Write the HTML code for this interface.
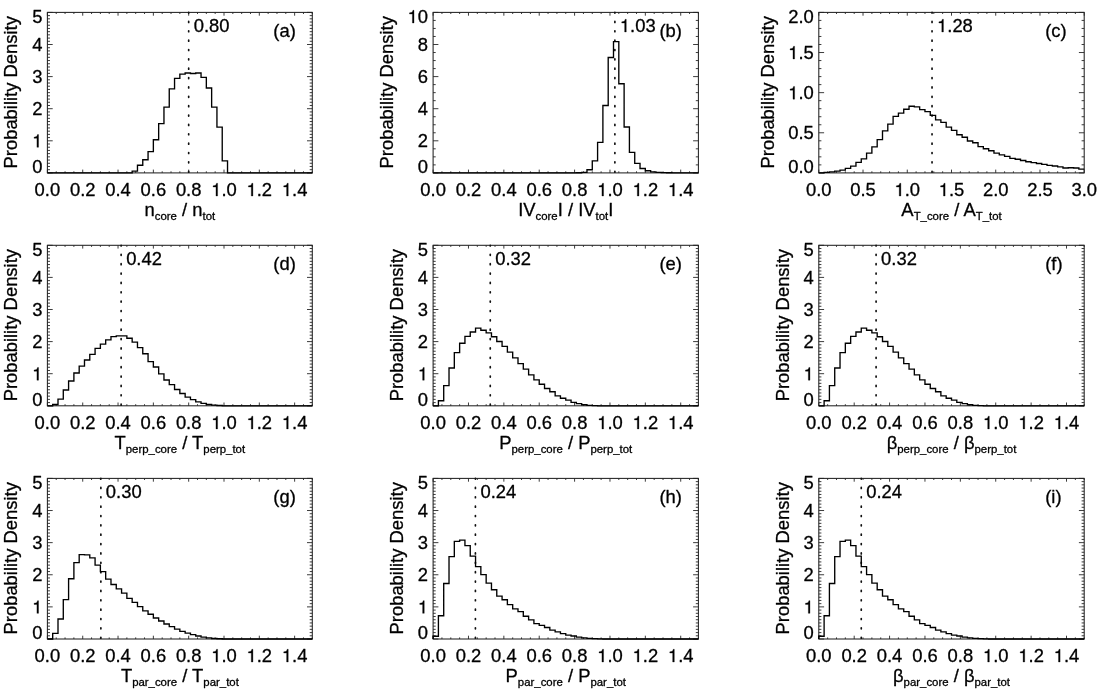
<!DOCTYPE html>
<html><head><meta charset="utf-8"><title>Probability density histograms</title>
<style>html,body{margin:0;padding:0;background:#fff;}body{width:1102px;height:695px;overflow:hidden;}svg{display:block;filter:blur(0.5px);}text{font-family:"Liberation Sans", sans-serif;}</style></head>
<body>
<svg width="1102" height="695" viewBox="0 0 1102 695" font-family='"Liberation Sans", sans-serif' font-size="18.4" fill="#000">
<style>text{stroke:#000;stroke-width:0.3px;stroke-linejoin:round;}</style>
<defs><path id="one" d="M259 0H347V692H289C258 583 238 568 102 551V488H259Z" fill="#000" stroke="#000" stroke-width="16.3" stroke-linejoin="round"/></defs>
<rect width="1102" height="695" fill="#fff"/>
<g>
<path d="M47.4 172.9v-3.3M47.4 12.4v3.3M56.23 172.9v-1.6M56.23 12.4v1.6M65.06 172.9v-1.6M65.06 12.4v1.6M73.89 172.9v-1.6M73.89 12.4v1.6M82.72 172.9v-3.3M82.72 12.4v3.3M91.55 172.9v-1.6M91.55 12.4v1.6M100.38 172.9v-1.6M100.38 12.4v1.6M109.21 172.9v-1.6M109.21 12.4v1.6M118.04 172.9v-3.3M118.04 12.4v3.3M126.87 172.9v-1.6M126.87 12.4v1.6M135.7 172.9v-1.6M135.7 12.4v1.6M144.53 172.9v-1.6M144.53 12.4v1.6M153.36 172.9v-3.3M153.36 12.4v3.3M162.19 172.9v-1.6M162.19 12.4v1.6M171.02 172.9v-1.6M171.02 12.4v1.6M179.85 172.9v-1.6M179.85 12.4v1.6M188.68 172.9v-3.3M188.68 12.4v3.3M197.51 172.9v-1.6M197.51 12.4v1.6M206.34 172.9v-1.6M206.34 12.4v1.6M215.17 172.9v-1.6M215.17 12.4v1.6M224 172.9v-3.3M224 12.4v3.3M232.83 172.9v-1.6M232.83 12.4v1.6M241.66 172.9v-1.6M241.66 12.4v1.6M250.49 172.9v-1.6M250.49 12.4v1.6M259.32 172.9v-3.3M259.32 12.4v3.3M268.15 172.9v-1.6M268.15 12.4v1.6M276.98 172.9v-1.6M276.98 12.4v1.6M285.81 172.9v-1.6M285.81 12.4v1.6M294.64 172.9v-3.3M294.64 12.4v3.3M303.47 172.9v-1.6M303.47 12.4v1.6M312.3 172.9v-1.6M312.3 12.4v1.6M47.4 172.9h5.3M312.3 172.9h-5.3M47.4 169.69h2.6M312.3 169.69h-2.6M47.4 166.48h2.6M312.3 166.48h-2.6M47.4 163.27h2.6M312.3 163.27h-2.6M47.4 160.06h2.6M312.3 160.06h-2.6M47.4 156.85h2.6M312.3 156.85h-2.6M47.4 153.64h2.6M312.3 153.64h-2.6M47.4 150.43h2.6M312.3 150.43h-2.6M47.4 147.22h2.6M312.3 147.22h-2.6M47.4 144.01h2.6M312.3 144.01h-2.6M47.4 140.8h5.3M312.3 140.8h-5.3M47.4 137.59h2.6M312.3 137.59h-2.6M47.4 134.38h2.6M312.3 134.38h-2.6M47.4 131.17h2.6M312.3 131.17h-2.6M47.4 127.96h2.6M312.3 127.96h-2.6M47.4 124.75h2.6M312.3 124.75h-2.6M47.4 121.54h2.6M312.3 121.54h-2.6M47.4 118.33h2.6M312.3 118.33h-2.6M47.4 115.12h2.6M312.3 115.12h-2.6M47.4 111.91h2.6M312.3 111.91h-2.6M47.4 108.7h5.3M312.3 108.7h-5.3M47.4 105.49h2.6M312.3 105.49h-2.6M47.4 102.28h2.6M312.3 102.28h-2.6M47.4 99.07h2.6M312.3 99.07h-2.6M47.4 95.86h2.6M312.3 95.86h-2.6M47.4 92.65h2.6M312.3 92.65h-2.6M47.4 89.44h2.6M312.3 89.44h-2.6M47.4 86.23h2.6M312.3 86.23h-2.6M47.4 83.02h2.6M312.3 83.02h-2.6M47.4 79.81h2.6M312.3 79.81h-2.6M47.4 76.6h5.3M312.3 76.6h-5.3M47.4 73.39h2.6M312.3 73.39h-2.6M47.4 70.18h2.6M312.3 70.18h-2.6M47.4 66.97h2.6M312.3 66.97h-2.6M47.4 63.76h2.6M312.3 63.76h-2.6M47.4 60.55h2.6M312.3 60.55h-2.6M47.4 57.34h2.6M312.3 57.34h-2.6M47.4 54.13h2.6M312.3 54.13h-2.6M47.4 50.92h2.6M312.3 50.92h-2.6M47.4 47.71h2.6M312.3 47.71h-2.6M47.4 44.5h5.3M312.3 44.5h-5.3M47.4 41.29h2.6M312.3 41.29h-2.6M47.4 38.08h2.6M312.3 38.08h-2.6M47.4 34.87h2.6M312.3 34.87h-2.6M47.4 31.66h2.6M312.3 31.66h-2.6M47.4 28.45h2.6M312.3 28.45h-2.6M47.4 25.24h2.6M312.3 25.24h-2.6M47.4 22.03h2.6M312.3 22.03h-2.6M47.4 18.82h2.6M312.3 18.82h-2.6M47.4 15.61h2.6M312.3 15.61h-2.6M47.4 12.4h5.3M312.3 12.4h-5.3" stroke="#333" stroke-width="0.95" fill="none"/>
<rect x="47.4" y="12.4" width="264.9" height="160.5" fill="none" stroke="#222" stroke-width="1.05"/>
<path d="M188.68 12.4V172.9" stroke="#111" stroke-width="1.7" stroke-linecap="round" stroke-dasharray="1 8.364" stroke-dashoffset="0.36" fill="none"/>
<path d="M47.4 172.9V172.9H52.7V172.9H58V172.9H63.29V172.9H68.59V172.9H73.89V172.9H79.19V172.9H84.49V172.9H89.78V172.9H95.08V172.9H100.38V172.9H105.68V172.9H110.98V172.9H116.27V172.9H121.57V172.9H126.87V172.9H132.17V171.08H137.47V165.22H142.76V159.73H148.06V151.66H153.36V139.79H158.66V123.63H163.96V107.12H169.25V88.88H174.55V78.32H179.85V74.16H185.15V72.98H190.45V73.52H195.74V72.98H201.04V77.36H206.34V88.02H211.64V107.12H216.94V127.12H222.23V160.88H227.53V172.9H232.83V172.9H238.13V172.9H243.43V172.9H248.72V172.9H254.02V172.9H259.32V172.9H264.62V172.9H269.92V172.9H275.21V172.9H280.51V172.9H285.81V172.9H291.11V172.9H296.41V172.9H301.7V172.9H307V172.9H312.3" stroke="#000" stroke-width="1.35" fill="none" stroke-linejoin="miter"/>
<text x="34.61" y="196">0.0</text>
<text x="69.93" y="196">0.2</text>
<text x="105.25" y="196">0.4</text>
<text x="140.57" y="196">0.6</text>
<text x="175.89" y="196">0.8</text>
<use href="#one" transform="translate(211.21 196) scale(0.01840 -0.01840)"/><text x="221.44" y="196">.0</text>
<use href="#one" transform="translate(246.53 196) scale(0.01840 -0.01840)"/><text x="256.76" y="196">.2</text>
<use href="#one" transform="translate(281.85 196) scale(0.01840 -0.01840)"/><text x="292.08" y="196">.4</text>
<text x="32.17" y="173.2">0</text>
<use href="#one" transform="translate(32.17 147.29) scale(0.01840 -0.01840)"/>
<text x="32.17" y="115.19">2</text>
<text x="32.17" y="83.09">3</text>
<text x="32.17" y="50.99">4</text>
<text x="32.17" y="23">5</text>
<text transform="translate(17.4 92.3) rotate(-90)" text-anchor="middle">Probability Density</text>
<text x="179.85" y="215.8" text-anchor="middle" xml:space="preserve"><tspan dy="0">n</tspan><tspan dy="4" font-size="11.4" stroke-width="0.3">core</tspan><tspan dy="-4"> / n</tspan><tspan dy="4" font-size="11.4" stroke-width="0.3">tot</tspan></text>
<text x="193.68" y="32">0.80</text>
<text x="273.36" y="36.6">(a)</text>
</g>
<g>
<path d="M433.1 172.9v-3.3M433.1 12.4v3.3M441.94 172.9v-1.6M441.94 12.4v1.6M450.79 172.9v-1.6M450.79 12.4v1.6M459.63 172.9v-1.6M459.63 12.4v1.6M468.47 172.9v-3.3M468.47 12.4v3.3M477.32 172.9v-1.6M477.32 12.4v1.6M486.16 172.9v-1.6M486.16 12.4v1.6M495 172.9v-1.6M495 12.4v1.6M503.85 172.9v-3.3M503.85 12.4v3.3M512.69 172.9v-1.6M512.69 12.4v1.6M521.53 172.9v-1.6M521.53 12.4v1.6M530.38 172.9v-1.6M530.38 12.4v1.6M539.22 172.9v-3.3M539.22 12.4v3.3M548.06 172.9v-1.6M548.06 12.4v1.6M556.91 172.9v-1.6M556.91 12.4v1.6M565.75 172.9v-1.6M565.75 12.4v1.6M574.59 172.9v-3.3M574.59 12.4v3.3M583.44 172.9v-1.6M583.44 12.4v1.6M592.28 172.9v-1.6M592.28 12.4v1.6M601.12 172.9v-1.6M601.12 12.4v1.6M609.97 172.9v-3.3M609.97 12.4v3.3M618.81 172.9v-1.6M618.81 12.4v1.6M627.65 172.9v-1.6M627.65 12.4v1.6M636.5 172.9v-1.6M636.5 12.4v1.6M645.34 172.9v-3.3M645.34 12.4v3.3M654.18 172.9v-1.6M654.18 12.4v1.6M663.03 172.9v-1.6M663.03 12.4v1.6M671.87 172.9v-1.6M671.87 12.4v1.6M680.71 172.9v-3.3M680.71 12.4v3.3M689.56 172.9v-1.6M689.56 12.4v1.6M698.4 172.9v-1.6M698.4 12.4v1.6M433.1 172.9h5.3M698.4 172.9h-5.3M433.1 164.88h2.6M698.4 164.88h-2.6M433.1 156.85h2.6M698.4 156.85h-2.6M433.1 148.82h2.6M698.4 148.82h-2.6M433.1 140.8h5.3M698.4 140.8h-5.3M433.1 132.78h2.6M698.4 132.78h-2.6M433.1 124.75h2.6M698.4 124.75h-2.6M433.1 116.72h2.6M698.4 116.72h-2.6M433.1 108.7h5.3M698.4 108.7h-5.3M433.1 100.67h2.6M698.4 100.67h-2.6M433.1 92.65h2.6M698.4 92.65h-2.6M433.1 84.62h2.6M698.4 84.62h-2.6M433.1 76.6h5.3M698.4 76.6h-5.3M433.1 68.58h2.6M698.4 68.58h-2.6M433.1 60.55h2.6M698.4 60.55h-2.6M433.1 52.53h2.6M698.4 52.53h-2.6M433.1 44.5h5.3M698.4 44.5h-5.3M433.1 36.47h2.6M698.4 36.47h-2.6M433.1 28.45h2.6M698.4 28.45h-2.6M433.1 20.43h2.6M698.4 20.43h-2.6M433.1 12.4h5.3M698.4 12.4h-5.3" stroke="#333" stroke-width="0.95" fill="none"/>
<rect x="433.1" y="12.4" width="265.3" height="160.5" fill="none" stroke="#222" stroke-width="1.05"/>
<path d="M614.88 12.4V172.9" stroke="#111" stroke-width="1.7" stroke-linecap="round" stroke-dasharray="1 8.364" stroke-dashoffset="0.36" fill="none"/>
<path d="M433.1 172.9V172.9H438.41V172.9H443.71V172.9H449.02V172.9H454.32V172.9H459.63V172.9H464.94V172.9H470.24V172.9H475.55V172.9H480.85V172.9H486.16V172.9H491.47V172.9H496.77V172.9H502.08V172.9H507.38V172.9H512.69V172.9H518V172.9H523.3V172.9H528.61V172.9H533.91V172.9H539.22V172.9H544.53V172.9H549.83V172.9H555.14V172.9H560.44V172.9H565.75V172.9H571.06V172.9H576.36V172.73H581.67V172.4H586.97V169.7H592.28V160.88H597.59V142.32H602.89V105.52H608.2V57.52H613.5V41.68H618.81V83.76H624.12V126.96H629.42V152.4H634.73V163.31H640.03V168.52H645.34V170.71H650.65V171.89H655.95V172.31H661.26V172.56H666.56V172.7H671.87V172.8H677.18V172.9H682.48V172.9H687.79V172.9H693.09V172.9H698.4" stroke="#000" stroke-width="1.35" fill="none" stroke-linejoin="miter"/>
<text x="420.31" y="196">0.0</text>
<text x="455.68" y="196">0.2</text>
<text x="491.06" y="196">0.4</text>
<text x="526.43" y="196">0.6</text>
<text x="561.8" y="196">0.8</text>
<use href="#one" transform="translate(597.18 196) scale(0.01840 -0.01840)"/><text x="607.41" y="196">.0</text>
<use href="#one" transform="translate(632.55 196) scale(0.01840 -0.01840)"/><text x="642.78" y="196">.2</text>
<use href="#one" transform="translate(667.92 196) scale(0.01840 -0.01840)"/><text x="678.16" y="196">.4</text>
<text x="417.87" y="173.2">0</text>
<text x="417.87" y="147.29">2</text>
<text x="417.87" y="115.19">4</text>
<text x="417.87" y="83.09">6</text>
<text x="417.87" y="50.99">8</text>
<use href="#one" transform="translate(407.63 23) scale(0.01840 -0.01840)"/><text x="417.87" y="23">0</text>
<text transform="translate(392.9 92.3) rotate(-90)" text-anchor="middle">Probability Density</text>
<text x="565.75" y="215.8" text-anchor="middle" xml:space="preserve"><tspan dy="0">IV</tspan><tspan dy="4" font-size="11.4" stroke-width="0.3">core</tspan><tspan dy="-4">I / IV</tspan><tspan dy="4" font-size="11.4" stroke-width="0.3">tot</tspan><tspan dy="-4">I</tspan></text>
<use href="#one" transform="translate(619.88 32) scale(0.01840 -0.01840)"/><text x="630.12" y="32">.03</text>
<text x="659.4" y="36.6">(b)</text>
</g>
<g>
<path d="M818.8 172.9v-3.3M818.8 12.4v3.3M827.65 172.9v-1.6M827.65 12.4v1.6M836.49 172.9v-1.6M836.49 12.4v1.6M845.34 172.9v-1.6M845.34 12.4v1.6M854.19 172.9v-1.6M854.19 12.4v1.6M863.03 172.9v-3.3M863.03 12.4v3.3M871.88 172.9v-1.6M871.88 12.4v1.6M880.73 172.9v-1.6M880.73 12.4v1.6M889.57 172.9v-1.6M889.57 12.4v1.6M898.42 172.9v-1.6M898.42 12.4v1.6M907.27 172.9v-3.3M907.27 12.4v3.3M916.11 172.9v-1.6M916.11 12.4v1.6M924.96 172.9v-1.6M924.96 12.4v1.6M933.81 172.9v-1.6M933.81 12.4v1.6M942.65 172.9v-1.6M942.65 12.4v1.6M951.5 172.9v-3.3M951.5 12.4v3.3M960.35 172.9v-1.6M960.35 12.4v1.6M969.19 172.9v-1.6M969.19 12.4v1.6M978.04 172.9v-1.6M978.04 12.4v1.6M986.89 172.9v-1.6M986.89 12.4v1.6M995.73 172.9v-3.3M995.73 12.4v3.3M1004.58 172.9v-1.6M1004.58 12.4v1.6M1013.43 172.9v-1.6M1013.43 12.4v1.6M1022.27 172.9v-1.6M1022.27 12.4v1.6M1031.12 172.9v-1.6M1031.12 12.4v1.6M1039.97 172.9v-3.3M1039.97 12.4v3.3M1048.81 172.9v-1.6M1048.81 12.4v1.6M1057.66 172.9v-1.6M1057.66 12.4v1.6M1066.51 172.9v-1.6M1066.51 12.4v1.6M1075.35 172.9v-1.6M1075.35 12.4v1.6M1084.2 172.9v-3.3M1084.2 12.4v3.3M818.8 172.9h5.3M1084.2 172.9h-5.3M818.8 164.88h2.6M1084.2 164.88h-2.6M818.8 156.85h2.6M1084.2 156.85h-2.6M818.8 148.82h2.6M1084.2 148.82h-2.6M818.8 140.8h2.6M1084.2 140.8h-2.6M818.8 132.78h5.3M1084.2 132.78h-5.3M818.8 124.75h2.6M1084.2 124.75h-2.6M818.8 116.72h2.6M1084.2 116.72h-2.6M818.8 108.7h2.6M1084.2 108.7h-2.6M818.8 100.67h2.6M1084.2 100.67h-2.6M818.8 92.65h5.3M1084.2 92.65h-5.3M818.8 84.62h2.6M1084.2 84.62h-2.6M818.8 76.6h2.6M1084.2 76.6h-2.6M818.8 68.58h2.6M1084.2 68.58h-2.6M818.8 60.55h2.6M1084.2 60.55h-2.6M818.8 52.53h5.3M1084.2 52.53h-5.3M818.8 44.5h2.6M1084.2 44.5h-2.6M818.8 36.47h2.6M1084.2 36.47h-2.6M818.8 28.45h2.6M1084.2 28.45h-2.6M818.8 20.42h2.6M1084.2 20.42h-2.6M818.8 12.4h5.3M1084.2 12.4h-5.3" stroke="#333" stroke-width="0.95" fill="none"/>
<rect x="818.8" y="12.4" width="265.4" height="160.5" fill="none" stroke="#222" stroke-width="1.05"/>
<path d="M932.04 12.4V172.9" stroke="#111" stroke-width="1.7" stroke-linecap="round" stroke-dasharray="1 8.364" stroke-dashoffset="0.36" fill="none"/>
<path d="M818.8 172.9V172.9H824.11V172.4H829.42V171.89H834.72V171.05H840.03V170.12H845.34V168.44H850.65V166.17H855.96V162.4H861.26V158.88H866.57V153.12H871.88V146.8H877.19V139.6H882.5V130.88H887.8V124.08H893.11V116.4H898.42V113.12H903.73V109.28H909.04V106.24H914.34V106.88H919.65V109.68H924.96V111.6H930.27V115.44H935.58V119.84H940.88V122.4H946.19V127.12H951.5V130.4H956.81V134.72H962.12V137.28H967.42V141.04H972.73V142.72H978.04V146.56H983.35V148.72H988.66V150.72H993.96V153.12H999.27V154.8H1004.58V156.32H1009.89V158.32H1015.2V159.2H1020.5V160.48H1025.81V161.76H1031.12V162.64H1036.43V163.47H1041.74V164.4H1047.04V165.33H1052.35V166H1057.66V166.84H1062.97V168.02H1068.28V167.77H1073.58V168.02H1078.89V169.11H1084.2" stroke="#000" stroke-width="1.35" fill="none" stroke-linejoin="miter"/>
<text x="806.01" y="196">0.0</text>
<text x="850.24" y="196">0.5</text>
<use href="#one" transform="translate(894.48 196) scale(0.01840 -0.01840)"/><text x="904.71" y="196">.0</text>
<use href="#one" transform="translate(938.71 196) scale(0.01840 -0.01840)"/><text x="948.94" y="196">.5</text>
<text x="982.94" y="196">2.0</text>
<text x="1027.18" y="196">2.5</text>
<text x="1071.41" y="196">3.0</text>
<text x="788.22" y="173.2">0.0</text>
<text x="788.22" y="139.26">0.5</text>
<use href="#one" transform="translate(788.22 99.14) scale(0.01840 -0.01840)"/><text x="798.45" y="99.14">.0</text>
<use href="#one" transform="translate(788.22 59.01) scale(0.01840 -0.01840)"/><text x="798.45" y="59.01">.5</text>
<text x="788.22" y="23">2.0</text>
<text transform="translate(773.8 92.3) rotate(-90)" text-anchor="middle">Probability Density</text>
<text x="951.5" y="215.8" text-anchor="middle" xml:space="preserve"><tspan dy="0">A</tspan><tspan dy="4" font-size="11.4" stroke-width="0.3">T_core</tspan><tspan dy="-4"> / A</tspan><tspan dy="4" font-size="11.4" stroke-width="0.3">T_tot</tspan></text>
<use href="#one" transform="translate(937.04 32) scale(0.01840 -0.01840)"/><text x="947.27" y="32">.28</text>
<text x="1045.19" y="36.6">(c)</text>
</g>
<g>
<path d="M47.4 405.8v-3.3M47.4 245.3v3.3M56.23 405.8v-1.6M56.23 245.3v1.6M65.06 405.8v-1.6M65.06 245.3v1.6M73.89 405.8v-1.6M73.89 245.3v1.6M82.72 405.8v-3.3M82.72 245.3v3.3M91.55 405.8v-1.6M91.55 245.3v1.6M100.38 405.8v-1.6M100.38 245.3v1.6M109.21 405.8v-1.6M109.21 245.3v1.6M118.04 405.8v-3.3M118.04 245.3v3.3M126.87 405.8v-1.6M126.87 245.3v1.6M135.7 405.8v-1.6M135.7 245.3v1.6M144.53 405.8v-1.6M144.53 245.3v1.6M153.36 405.8v-3.3M153.36 245.3v3.3M162.19 405.8v-1.6M162.19 245.3v1.6M171.02 405.8v-1.6M171.02 245.3v1.6M179.85 405.8v-1.6M179.85 245.3v1.6M188.68 405.8v-3.3M188.68 245.3v3.3M197.51 405.8v-1.6M197.51 245.3v1.6M206.34 405.8v-1.6M206.34 245.3v1.6M215.17 405.8v-1.6M215.17 245.3v1.6M224 405.8v-3.3M224 245.3v3.3M232.83 405.8v-1.6M232.83 245.3v1.6M241.66 405.8v-1.6M241.66 245.3v1.6M250.49 405.8v-1.6M250.49 245.3v1.6M259.32 405.8v-3.3M259.32 245.3v3.3M268.15 405.8v-1.6M268.15 245.3v1.6M276.98 405.8v-1.6M276.98 245.3v1.6M285.81 405.8v-1.6M285.81 245.3v1.6M294.64 405.8v-3.3M294.64 245.3v3.3M303.47 405.8v-1.6M303.47 245.3v1.6M312.3 405.8v-1.6M312.3 245.3v1.6M47.4 405.8h5.3M312.3 405.8h-5.3M47.4 402.59h2.6M312.3 402.59h-2.6M47.4 399.38h2.6M312.3 399.38h-2.6M47.4 396.17h2.6M312.3 396.17h-2.6M47.4 392.96h2.6M312.3 392.96h-2.6M47.4 389.75h2.6M312.3 389.75h-2.6M47.4 386.54h2.6M312.3 386.54h-2.6M47.4 383.33h2.6M312.3 383.33h-2.6M47.4 380.12h2.6M312.3 380.12h-2.6M47.4 376.91h2.6M312.3 376.91h-2.6M47.4 373.7h5.3M312.3 373.7h-5.3M47.4 370.49h2.6M312.3 370.49h-2.6M47.4 367.28h2.6M312.3 367.28h-2.6M47.4 364.07h2.6M312.3 364.07h-2.6M47.4 360.86h2.6M312.3 360.86h-2.6M47.4 357.65h2.6M312.3 357.65h-2.6M47.4 354.44h2.6M312.3 354.44h-2.6M47.4 351.23h2.6M312.3 351.23h-2.6M47.4 348.02h2.6M312.3 348.02h-2.6M47.4 344.81h2.6M312.3 344.81h-2.6M47.4 341.6h5.3M312.3 341.6h-5.3M47.4 338.39h2.6M312.3 338.39h-2.6M47.4 335.18h2.6M312.3 335.18h-2.6M47.4 331.97h2.6M312.3 331.97h-2.6M47.4 328.76h2.6M312.3 328.76h-2.6M47.4 325.55h2.6M312.3 325.55h-2.6M47.4 322.34h2.6M312.3 322.34h-2.6M47.4 319.13h2.6M312.3 319.13h-2.6M47.4 315.92h2.6M312.3 315.92h-2.6M47.4 312.71h2.6M312.3 312.71h-2.6M47.4 309.5h5.3M312.3 309.5h-5.3M47.4 306.29h2.6M312.3 306.29h-2.6M47.4 303.08h2.6M312.3 303.08h-2.6M47.4 299.87h2.6M312.3 299.87h-2.6M47.4 296.66h2.6M312.3 296.66h-2.6M47.4 293.45h2.6M312.3 293.45h-2.6M47.4 290.24h2.6M312.3 290.24h-2.6M47.4 287.03h2.6M312.3 287.03h-2.6M47.4 283.82h2.6M312.3 283.82h-2.6M47.4 280.61h2.6M312.3 280.61h-2.6M47.4 277.4h5.3M312.3 277.4h-5.3M47.4 274.19h2.6M312.3 274.19h-2.6M47.4 270.98h2.6M312.3 270.98h-2.6M47.4 267.77h2.6M312.3 267.77h-2.6M47.4 264.56h2.6M312.3 264.56h-2.6M47.4 261.35h2.6M312.3 261.35h-2.6M47.4 258.14h2.6M312.3 258.14h-2.6M47.4 254.93h2.6M312.3 254.93h-2.6M47.4 251.72h2.6M312.3 251.72h-2.6M47.4 248.51h2.6M312.3 248.51h-2.6M47.4 245.3h5.3M312.3 245.3h-5.3" stroke="#333" stroke-width="0.95" fill="none"/>
<rect x="47.4" y="245.3" width="264.9" height="160.5" fill="none" stroke="#222" stroke-width="1.05"/>
<path d="M121.13 245.3V405.8" stroke="#111" stroke-width="1.7" stroke-linecap="round" stroke-dasharray="1 8.364" stroke-dashoffset="0.36" fill="none"/>
<path d="M47.4 405.8V405.8H52.7V404.45H58V399.07H63.29V390.04H68.59V380.98H73.89V372.98H79.19V366.1H84.49V359.99H89.78V354.42H95.08V348.34H100.38V344.08H105.68V339.8H110.98V336.69H116.27V335.92H121.57V335.92H126.87V338.26H132.17V342.13H137.47V347.57H142.76V353.78H148.06V361.56H153.36V367H158.66V373.84H163.96V379.96H169.25V384.66H174.55V389.52H179.85V393.52H185.15V397.15H190.45V399.57H195.74V401.86H201.04V403.31H206.34V404.45H211.64V405.13H216.94V405.46H222.23V405.8H227.53V405.8H232.83V405.8H238.13V405.8H243.43V405.8H248.72V405.8H254.02V405.8H259.32V405.8H264.62V405.8H269.92V405.8H275.21V405.8H280.51V405.8H285.81V405.8H291.11V405.8H296.41V405.8H301.7V405.8H307V405.8H312.3" stroke="#000" stroke-width="1.35" fill="none" stroke-linejoin="miter"/>
<text x="34.61" y="428.9">0.0</text>
<text x="69.93" y="428.9">0.2</text>
<text x="105.25" y="428.9">0.4</text>
<text x="140.57" y="428.9">0.6</text>
<text x="175.89" y="428.9">0.8</text>
<use href="#one" transform="translate(211.21 428.9) scale(0.01840 -0.01840)"/><text x="221.44" y="428.9">.0</text>
<use href="#one" transform="translate(246.53 428.9) scale(0.01840 -0.01840)"/><text x="256.76" y="428.9">.2</text>
<use href="#one" transform="translate(281.85 428.9) scale(0.01840 -0.01840)"/><text x="292.08" y="428.9">.4</text>
<text x="32.17" y="406.1">0</text>
<use href="#one" transform="translate(32.17 380.19) scale(0.01840 -0.01840)"/>
<text x="32.17" y="348.09">2</text>
<text x="32.17" y="315.99">3</text>
<text x="32.17" y="283.89">4</text>
<text x="32.17" y="255.9">5</text>
<text transform="translate(17.4 325.2) rotate(-90)" text-anchor="middle">Probability Density</text>
<text x="179.85" y="448.7" text-anchor="middle" xml:space="preserve"><tspan dy="0">T</tspan><tspan dy="4" font-size="11.4" stroke-width="0.3">perp_core</tspan><tspan dy="-4"> / T</tspan><tspan dy="4" font-size="11.4" stroke-width="0.3">perp_tot</tspan></text>
<text x="126.13" y="264.9">0.42</text>
<text x="273.36" y="269.5">(d)</text>
</g>
<g>
<path d="M433.1 405.8v-3.3M433.1 245.3v3.3M441.94 405.8v-1.6M441.94 245.3v1.6M450.79 405.8v-1.6M450.79 245.3v1.6M459.63 405.8v-1.6M459.63 245.3v1.6M468.47 405.8v-3.3M468.47 245.3v3.3M477.32 405.8v-1.6M477.32 245.3v1.6M486.16 405.8v-1.6M486.16 245.3v1.6M495 405.8v-1.6M495 245.3v1.6M503.85 405.8v-3.3M503.85 245.3v3.3M512.69 405.8v-1.6M512.69 245.3v1.6M521.53 405.8v-1.6M521.53 245.3v1.6M530.38 405.8v-1.6M530.38 245.3v1.6M539.22 405.8v-3.3M539.22 245.3v3.3M548.06 405.8v-1.6M548.06 245.3v1.6M556.91 405.8v-1.6M556.91 245.3v1.6M565.75 405.8v-1.6M565.75 245.3v1.6M574.59 405.8v-3.3M574.59 245.3v3.3M583.44 405.8v-1.6M583.44 245.3v1.6M592.28 405.8v-1.6M592.28 245.3v1.6M601.12 405.8v-1.6M601.12 245.3v1.6M609.97 405.8v-3.3M609.97 245.3v3.3M618.81 405.8v-1.6M618.81 245.3v1.6M627.65 405.8v-1.6M627.65 245.3v1.6M636.5 405.8v-1.6M636.5 245.3v1.6M645.34 405.8v-3.3M645.34 245.3v3.3M654.18 405.8v-1.6M654.18 245.3v1.6M663.03 405.8v-1.6M663.03 245.3v1.6M671.87 405.8v-1.6M671.87 245.3v1.6M680.71 405.8v-3.3M680.71 245.3v3.3M689.56 405.8v-1.6M689.56 245.3v1.6M698.4 405.8v-1.6M698.4 245.3v1.6M433.1 405.8h5.3M698.4 405.8h-5.3M433.1 402.59h2.6M698.4 402.59h-2.6M433.1 399.38h2.6M698.4 399.38h-2.6M433.1 396.17h2.6M698.4 396.17h-2.6M433.1 392.96h2.6M698.4 392.96h-2.6M433.1 389.75h2.6M698.4 389.75h-2.6M433.1 386.54h2.6M698.4 386.54h-2.6M433.1 383.33h2.6M698.4 383.33h-2.6M433.1 380.12h2.6M698.4 380.12h-2.6M433.1 376.91h2.6M698.4 376.91h-2.6M433.1 373.7h5.3M698.4 373.7h-5.3M433.1 370.49h2.6M698.4 370.49h-2.6M433.1 367.28h2.6M698.4 367.28h-2.6M433.1 364.07h2.6M698.4 364.07h-2.6M433.1 360.86h2.6M698.4 360.86h-2.6M433.1 357.65h2.6M698.4 357.65h-2.6M433.1 354.44h2.6M698.4 354.44h-2.6M433.1 351.23h2.6M698.4 351.23h-2.6M433.1 348.02h2.6M698.4 348.02h-2.6M433.1 344.81h2.6M698.4 344.81h-2.6M433.1 341.6h5.3M698.4 341.6h-5.3M433.1 338.39h2.6M698.4 338.39h-2.6M433.1 335.18h2.6M698.4 335.18h-2.6M433.1 331.97h2.6M698.4 331.97h-2.6M433.1 328.76h2.6M698.4 328.76h-2.6M433.1 325.55h2.6M698.4 325.55h-2.6M433.1 322.34h2.6M698.4 322.34h-2.6M433.1 319.13h2.6M698.4 319.13h-2.6M433.1 315.92h2.6M698.4 315.92h-2.6M433.1 312.71h2.6M698.4 312.71h-2.6M433.1 309.5h5.3M698.4 309.5h-5.3M433.1 306.29h2.6M698.4 306.29h-2.6M433.1 303.08h2.6M698.4 303.08h-2.6M433.1 299.87h2.6M698.4 299.87h-2.6M433.1 296.66h2.6M698.4 296.66h-2.6M433.1 293.45h2.6M698.4 293.45h-2.6M433.1 290.24h2.6M698.4 290.24h-2.6M433.1 287.03h2.6M698.4 287.03h-2.6M433.1 283.82h2.6M698.4 283.82h-2.6M433.1 280.61h2.6M698.4 280.61h-2.6M433.1 277.4h5.3M698.4 277.4h-5.3M433.1 274.19h2.6M698.4 274.19h-2.6M433.1 270.98h2.6M698.4 270.98h-2.6M433.1 267.77h2.6M698.4 267.77h-2.6M433.1 264.56h2.6M698.4 264.56h-2.6M433.1 261.35h2.6M698.4 261.35h-2.6M433.1 258.14h2.6M698.4 258.14h-2.6M433.1 254.93h2.6M698.4 254.93h-2.6M433.1 251.72h2.6M698.4 251.72h-2.6M433.1 248.51h2.6M698.4 248.51h-2.6M433.1 245.3h5.3M698.4 245.3h-5.3" stroke="#333" stroke-width="0.95" fill="none"/>
<rect x="433.1" y="245.3" width="265.3" height="160.5" fill="none" stroke="#222" stroke-width="1.05"/>
<path d="M490.26 245.3V405.8" stroke="#111" stroke-width="1.7" stroke-linecap="round" stroke-dasharray="1 8.364" stroke-dashoffset="0.36" fill="none"/>
<path d="M433.1 405.8V405.8H438.41V400.75H443.71V385.65H449.02V367.96H454.32V352.56H459.63V343.22H464.94V336.31H470.24V332.02H475.55V328.18H480.85V330.26H486.16V332.85H491.47V336.72H496.77V341.49H502.08V346.42H507.38V352.12H512.69V357.88H518V363.64H523.3V369.11H528.61V374.87H533.91V379.89H539.22V384.21H544.53V388.53H549.83V391.73H555.14V395.94H560.44V398.23H565.75V400.14H571.06V402.43H576.36V403.58H581.67V404.72H586.97V405.3H592.28V405.56H597.59V405.8H602.89V405.8H608.2V405.8H613.5V405.8H618.81V405.8H624.12V405.8H629.42V405.8H634.73V405.8H640.03V405.8H645.34V405.8H650.65V405.8H655.95V405.8H661.26V405.8H666.56V405.8H671.87V405.8H677.18V405.8H682.48V405.8H687.79V405.8H693.09V405.8H698.4" stroke="#000" stroke-width="1.35" fill="none" stroke-linejoin="miter"/>
<text x="420.31" y="428.9">0.0</text>
<text x="455.68" y="428.9">0.2</text>
<text x="491.06" y="428.9">0.4</text>
<text x="526.43" y="428.9">0.6</text>
<text x="561.8" y="428.9">0.8</text>
<use href="#one" transform="translate(597.18 428.9) scale(0.01840 -0.01840)"/><text x="607.41" y="428.9">.0</text>
<use href="#one" transform="translate(632.55 428.9) scale(0.01840 -0.01840)"/><text x="642.78" y="428.9">.2</text>
<use href="#one" transform="translate(667.92 428.9) scale(0.01840 -0.01840)"/><text x="678.16" y="428.9">.4</text>
<text x="417.87" y="406.1">0</text>
<use href="#one" transform="translate(417.87 380.19) scale(0.01840 -0.01840)"/>
<text x="417.87" y="348.09">2</text>
<text x="417.87" y="315.99">3</text>
<text x="417.87" y="283.89">4</text>
<text x="417.87" y="255.9">5</text>
<text transform="translate(403.1 325.2) rotate(-90)" text-anchor="middle">Probability Density</text>
<text x="565.75" y="448.7" text-anchor="middle" xml:space="preserve"><tspan dy="0">P</tspan><tspan dy="4" font-size="11.4" stroke-width="0.3">perp_core</tspan><tspan dy="-4"> / P</tspan><tspan dy="4" font-size="11.4" stroke-width="0.3">perp_tot</tspan></text>
<text x="495.26" y="264.9">0.32</text>
<text x="659.4" y="269.5">(e)</text>
</g>
<g>
<path d="M818.8 405.8v-3.3M818.8 245.3v3.3M827.65 405.8v-1.6M827.65 245.3v1.6M836.49 405.8v-1.6M836.49 245.3v1.6M845.34 405.8v-1.6M845.34 245.3v1.6M854.19 405.8v-3.3M854.19 245.3v3.3M863.03 405.8v-1.6M863.03 245.3v1.6M871.88 405.8v-1.6M871.88 245.3v1.6M880.73 405.8v-1.6M880.73 245.3v1.6M889.57 405.8v-3.3M889.57 245.3v3.3M898.42 405.8v-1.6M898.42 245.3v1.6M907.27 405.8v-1.6M907.27 245.3v1.6M916.11 405.8v-1.6M916.11 245.3v1.6M924.96 405.8v-3.3M924.96 245.3v3.3M933.81 405.8v-1.6M933.81 245.3v1.6M942.65 405.8v-1.6M942.65 245.3v1.6M951.5 405.8v-1.6M951.5 245.3v1.6M960.35 405.8v-3.3M960.35 245.3v3.3M969.19 405.8v-1.6M969.19 245.3v1.6M978.04 405.8v-1.6M978.04 245.3v1.6M986.89 405.8v-1.6M986.89 245.3v1.6M995.73 405.8v-3.3M995.73 245.3v3.3M1004.58 405.8v-1.6M1004.58 245.3v1.6M1013.43 405.8v-1.6M1013.43 245.3v1.6M1022.27 405.8v-1.6M1022.27 245.3v1.6M1031.12 405.8v-3.3M1031.12 245.3v3.3M1039.97 405.8v-1.6M1039.97 245.3v1.6M1048.81 405.8v-1.6M1048.81 245.3v1.6M1057.66 405.8v-1.6M1057.66 245.3v1.6M1066.51 405.8v-3.3M1066.51 245.3v3.3M1075.35 405.8v-1.6M1075.35 245.3v1.6M1084.2 405.8v-1.6M1084.2 245.3v1.6M818.8 405.8h5.3M1084.2 405.8h-5.3M818.8 402.59h2.6M1084.2 402.59h-2.6M818.8 399.38h2.6M1084.2 399.38h-2.6M818.8 396.17h2.6M1084.2 396.17h-2.6M818.8 392.96h2.6M1084.2 392.96h-2.6M818.8 389.75h2.6M1084.2 389.75h-2.6M818.8 386.54h2.6M1084.2 386.54h-2.6M818.8 383.33h2.6M1084.2 383.33h-2.6M818.8 380.12h2.6M1084.2 380.12h-2.6M818.8 376.91h2.6M1084.2 376.91h-2.6M818.8 373.7h5.3M1084.2 373.7h-5.3M818.8 370.49h2.6M1084.2 370.49h-2.6M818.8 367.28h2.6M1084.2 367.28h-2.6M818.8 364.07h2.6M1084.2 364.07h-2.6M818.8 360.86h2.6M1084.2 360.86h-2.6M818.8 357.65h2.6M1084.2 357.65h-2.6M818.8 354.44h2.6M1084.2 354.44h-2.6M818.8 351.23h2.6M1084.2 351.23h-2.6M818.8 348.02h2.6M1084.2 348.02h-2.6M818.8 344.81h2.6M1084.2 344.81h-2.6M818.8 341.6h5.3M1084.2 341.6h-5.3M818.8 338.39h2.6M1084.2 338.39h-2.6M818.8 335.18h2.6M1084.2 335.18h-2.6M818.8 331.97h2.6M1084.2 331.97h-2.6M818.8 328.76h2.6M1084.2 328.76h-2.6M818.8 325.55h2.6M1084.2 325.55h-2.6M818.8 322.34h2.6M1084.2 322.34h-2.6M818.8 319.13h2.6M1084.2 319.13h-2.6M818.8 315.92h2.6M1084.2 315.92h-2.6M818.8 312.71h2.6M1084.2 312.71h-2.6M818.8 309.5h5.3M1084.2 309.5h-5.3M818.8 306.29h2.6M1084.2 306.29h-2.6M818.8 303.08h2.6M1084.2 303.08h-2.6M818.8 299.87h2.6M1084.2 299.87h-2.6M818.8 296.66h2.6M1084.2 296.66h-2.6M818.8 293.45h2.6M1084.2 293.45h-2.6M818.8 290.24h2.6M1084.2 290.24h-2.6M818.8 287.03h2.6M1084.2 287.03h-2.6M818.8 283.82h2.6M1084.2 283.82h-2.6M818.8 280.61h2.6M1084.2 280.61h-2.6M818.8 277.4h5.3M1084.2 277.4h-5.3M818.8 274.19h2.6M1084.2 274.19h-2.6M818.8 270.98h2.6M1084.2 270.98h-2.6M818.8 267.77h2.6M1084.2 267.77h-2.6M818.8 264.56h2.6M1084.2 264.56h-2.6M818.8 261.35h2.6M1084.2 261.35h-2.6M818.8 258.14h2.6M1084.2 258.14h-2.6M818.8 254.93h2.6M1084.2 254.93h-2.6M818.8 251.72h2.6M1084.2 251.72h-2.6M818.8 248.51h2.6M1084.2 248.51h-2.6M818.8 245.3h5.3M1084.2 245.3h-5.3" stroke="#333" stroke-width="0.95" fill="none"/>
<rect x="818.8" y="245.3" width="265.4" height="160.5" fill="none" stroke="#222" stroke-width="1.05"/>
<path d="M876.09 245.3V405.8" stroke="#111" stroke-width="1.7" stroke-linecap="round" stroke-dasharray="1 8.364" stroke-dashoffset="0.36" fill="none"/>
<path d="M818.8 405.8V405.8H824.11V400.75H829.42V385.65H834.72V367.96H840.03V352.56H845.34V343.22H850.65V336.31H855.96V332.02H861.26V328.18H866.57V330.26H871.88V332.85H877.19V336.72H882.5V341.49H887.8V346.42H893.11V352.12H898.42V357.88H903.73V363.64H909.04V369.11H914.34V374.87H919.65V379.89H924.96V384.21H930.27V388.53H935.58V391.73H940.88V395.94H946.19V398.23H951.5V400.14H956.81V402.43H962.12V403.58H967.42V404.72H972.73V405.3H978.04V405.56H983.35V405.8H988.66V405.8H993.96V405.8H999.27V405.8H1004.58V405.8H1009.89V405.8H1015.2V405.8H1020.5V405.8H1025.81V405.8H1031.12V405.8H1036.43V405.8H1041.74V405.8H1047.04V405.8H1052.35V405.8H1057.66V405.8H1062.97V405.8H1068.28V405.8H1073.58V405.8H1078.89V405.8H1084.2" stroke="#000" stroke-width="1.35" fill="none" stroke-linejoin="miter"/>
<text x="806.01" y="428.9">0.0</text>
<text x="841.4" y="428.9">0.2</text>
<text x="876.78" y="428.9">0.4</text>
<text x="912.17" y="428.9">0.6</text>
<text x="947.56" y="428.9">0.8</text>
<use href="#one" transform="translate(982.94 428.9) scale(0.01840 -0.01840)"/><text x="993.18" y="428.9">.0</text>
<use href="#one" transform="translate(1018.33 428.9) scale(0.01840 -0.01840)"/><text x="1028.56" y="428.9">.2</text>
<use href="#one" transform="translate(1053.72 428.9) scale(0.01840 -0.01840)"/><text x="1063.95" y="428.9">.4</text>
<text x="803.57" y="406.1">0</text>
<use href="#one" transform="translate(803.57 380.19) scale(0.01840 -0.01840)"/>
<text x="803.57" y="348.09">2</text>
<text x="803.57" y="315.99">3</text>
<text x="803.57" y="283.89">4</text>
<text x="803.57" y="255.9">5</text>
<text transform="translate(788.8 325.2) rotate(-90)" text-anchor="middle">Probability Density</text>
<text x="951.5" y="448.7" text-anchor="middle" xml:space="preserve"><tspan dy="0">β</tspan><tspan dy="4" font-size="11.4" stroke-width="0.3">perp_core</tspan><tspan dy="-4"> / β</tspan><tspan dy="4" font-size="11.4" stroke-width="0.3">perp_tot</tspan></text>
<text x="881.09" y="264.9">0.32</text>
<text x="1045.19" y="269.5">(f)</text>
</g>
<g>
<path d="M47.4 639v-3.3M47.4 478.4v3.3M56.23 639v-1.6M56.23 478.4v1.6M65.06 639v-1.6M65.06 478.4v1.6M73.89 639v-1.6M73.89 478.4v1.6M82.72 639v-3.3M82.72 478.4v3.3M91.55 639v-1.6M91.55 478.4v1.6M100.38 639v-1.6M100.38 478.4v1.6M109.21 639v-1.6M109.21 478.4v1.6M118.04 639v-3.3M118.04 478.4v3.3M126.87 639v-1.6M126.87 478.4v1.6M135.7 639v-1.6M135.7 478.4v1.6M144.53 639v-1.6M144.53 478.4v1.6M153.36 639v-3.3M153.36 478.4v3.3M162.19 639v-1.6M162.19 478.4v1.6M171.02 639v-1.6M171.02 478.4v1.6M179.85 639v-1.6M179.85 478.4v1.6M188.68 639v-3.3M188.68 478.4v3.3M197.51 639v-1.6M197.51 478.4v1.6M206.34 639v-1.6M206.34 478.4v1.6M215.17 639v-1.6M215.17 478.4v1.6M224 639v-3.3M224 478.4v3.3M232.83 639v-1.6M232.83 478.4v1.6M241.66 639v-1.6M241.66 478.4v1.6M250.49 639v-1.6M250.49 478.4v1.6M259.32 639v-3.3M259.32 478.4v3.3M268.15 639v-1.6M268.15 478.4v1.6M276.98 639v-1.6M276.98 478.4v1.6M285.81 639v-1.6M285.81 478.4v1.6M294.64 639v-3.3M294.64 478.4v3.3M303.47 639v-1.6M303.47 478.4v1.6M312.3 639v-1.6M312.3 478.4v1.6M47.4 639h5.3M312.3 639h-5.3M47.4 635.79h2.6M312.3 635.79h-2.6M47.4 632.58h2.6M312.3 632.58h-2.6M47.4 629.36h2.6M312.3 629.36h-2.6M47.4 626.15h2.6M312.3 626.15h-2.6M47.4 622.94h2.6M312.3 622.94h-2.6M47.4 619.73h2.6M312.3 619.73h-2.6M47.4 616.52h2.6M312.3 616.52h-2.6M47.4 613.3h2.6M312.3 613.3h-2.6M47.4 610.09h2.6M312.3 610.09h-2.6M47.4 606.88h5.3M312.3 606.88h-5.3M47.4 603.67h2.6M312.3 603.67h-2.6M47.4 600.46h2.6M312.3 600.46h-2.6M47.4 597.24h2.6M312.3 597.24h-2.6M47.4 594.03h2.6M312.3 594.03h-2.6M47.4 590.82h2.6M312.3 590.82h-2.6M47.4 587.61h2.6M312.3 587.61h-2.6M47.4 584.4h2.6M312.3 584.4h-2.6M47.4 581.18h2.6M312.3 581.18h-2.6M47.4 577.97h2.6M312.3 577.97h-2.6M47.4 574.76h5.3M312.3 574.76h-5.3M47.4 571.55h2.6M312.3 571.55h-2.6M47.4 568.34h2.6M312.3 568.34h-2.6M47.4 565.12h2.6M312.3 565.12h-2.6M47.4 561.91h2.6M312.3 561.91h-2.6M47.4 558.7h2.6M312.3 558.7h-2.6M47.4 555.49h2.6M312.3 555.49h-2.6M47.4 552.28h2.6M312.3 552.28h-2.6M47.4 549.06h2.6M312.3 549.06h-2.6M47.4 545.85h2.6M312.3 545.85h-2.6M47.4 542.64h5.3M312.3 542.64h-5.3M47.4 539.43h2.6M312.3 539.43h-2.6M47.4 536.22h2.6M312.3 536.22h-2.6M47.4 533h2.6M312.3 533h-2.6M47.4 529.79h2.6M312.3 529.79h-2.6M47.4 526.58h2.6M312.3 526.58h-2.6M47.4 523.37h2.6M312.3 523.37h-2.6M47.4 520.16h2.6M312.3 520.16h-2.6M47.4 516.94h2.6M312.3 516.94h-2.6M47.4 513.73h2.6M312.3 513.73h-2.6M47.4 510.52h5.3M312.3 510.52h-5.3M47.4 507.31h2.6M312.3 507.31h-2.6M47.4 504.1h2.6M312.3 504.1h-2.6M47.4 500.88h2.6M312.3 500.88h-2.6M47.4 497.67h2.6M312.3 497.67h-2.6M47.4 494.46h2.6M312.3 494.46h-2.6M47.4 491.25h2.6M312.3 491.25h-2.6M47.4 488.04h2.6M312.3 488.04h-2.6M47.4 484.82h2.6M312.3 484.82h-2.6M47.4 481.61h2.6M312.3 481.61h-2.6M47.4 478.4h5.3M312.3 478.4h-5.3" stroke="#333" stroke-width="0.95" fill="none"/>
<rect x="47.4" y="478.4" width="264.9" height="160.6" fill="none" stroke="#222" stroke-width="1.05"/>
<path d="M100.87 478.4V639" stroke="#111" stroke-width="1.7" stroke-linecap="round" stroke-dasharray="1 8.364" stroke-dashoffset="0.36" fill="none"/>
<path d="M47.4 639V639H52.7V633.36H58V619.04H63.29V599.55H68.59V578.72H73.89V562.56H79.19V554.56H84.49V554.88H89.78V557.89H95.08V565.12H100.38V571.62H105.68V579.17H110.98V584.45H116.27V588.83H121.57V593.06H126.87V598.37H132.17V602.43H137.47V606.66H142.76V610.88H148.06V614.21H153.36V617.98H158.66V620.99H163.96V624.03H169.25V626.69H174.55V629.07H179.85V631.32H185.15V633.15H190.45V634.58H195.74V636.04H201.04V637.06H206.34V637.91H211.64V638.49H216.94V638.76H222.23V639H227.53V639H232.83V639H238.13V639H243.43V639H248.72V639H254.02V639H259.32V639H264.62V639H269.92V639H275.21V639H280.51V639H285.81V639H291.11V639H296.41V639H301.7V639H307V639H312.3" stroke="#000" stroke-width="1.35" fill="none" stroke-linejoin="miter"/>
<text x="34.61" y="662">0.0</text>
<text x="69.93" y="662">0.2</text>
<text x="105.25" y="662">0.4</text>
<text x="140.57" y="662">0.6</text>
<text x="175.89" y="662">0.8</text>
<use href="#one" transform="translate(211.21 662) scale(0.01840 -0.01840)"/><text x="221.44" y="662">.0</text>
<use href="#one" transform="translate(246.53 662) scale(0.01840 -0.01840)"/><text x="256.76" y="662">.2</text>
<use href="#one" transform="translate(281.85 662) scale(0.01840 -0.01840)"/><text x="292.08" y="662">.4</text>
<text x="32.17" y="639.3">0</text>
<use href="#one" transform="translate(32.17 613.37) scale(0.01840 -0.01840)"/>
<text x="32.17" y="581.25">2</text>
<text x="32.17" y="549.13">3</text>
<text x="32.17" y="517.01">4</text>
<text x="32.17" y="489">5</text>
<text transform="translate(17.4 558.3) rotate(-90)" text-anchor="middle">Probability Density</text>
<text x="179.85" y="681.8" text-anchor="middle" xml:space="preserve"><tspan dy="0">T</tspan><tspan dy="4" font-size="11.4" stroke-width="0.3">par_core</tspan><tspan dy="-4"> / T</tspan><tspan dy="4" font-size="11.4" stroke-width="0.3">par_tot</tspan></text>
<text x="105.87" y="498">0.30</text>
<text x="273.36" y="502.6">(g)</text>
</g>
<g>
<path d="M433.1 639v-3.3M433.1 478.4v3.3M441.94 639v-1.6M441.94 478.4v1.6M450.79 639v-1.6M450.79 478.4v1.6M459.63 639v-1.6M459.63 478.4v1.6M468.47 639v-3.3M468.47 478.4v3.3M477.32 639v-1.6M477.32 478.4v1.6M486.16 639v-1.6M486.16 478.4v1.6M495 639v-1.6M495 478.4v1.6M503.85 639v-3.3M503.85 478.4v3.3M512.69 639v-1.6M512.69 478.4v1.6M521.53 639v-1.6M521.53 478.4v1.6M530.38 639v-1.6M530.38 478.4v1.6M539.22 639v-3.3M539.22 478.4v3.3M548.06 639v-1.6M548.06 478.4v1.6M556.91 639v-1.6M556.91 478.4v1.6M565.75 639v-1.6M565.75 478.4v1.6M574.59 639v-3.3M574.59 478.4v3.3M583.44 639v-1.6M583.44 478.4v1.6M592.28 639v-1.6M592.28 478.4v1.6M601.12 639v-1.6M601.12 478.4v1.6M609.97 639v-3.3M609.97 478.4v3.3M618.81 639v-1.6M618.81 478.4v1.6M627.65 639v-1.6M627.65 478.4v1.6M636.5 639v-1.6M636.5 478.4v1.6M645.34 639v-3.3M645.34 478.4v3.3M654.18 639v-1.6M654.18 478.4v1.6M663.03 639v-1.6M663.03 478.4v1.6M671.87 639v-1.6M671.87 478.4v1.6M680.71 639v-3.3M680.71 478.4v3.3M689.56 639v-1.6M689.56 478.4v1.6M698.4 639v-1.6M698.4 478.4v1.6M433.1 639h5.3M698.4 639h-5.3M433.1 635.79h2.6M698.4 635.79h-2.6M433.1 632.58h2.6M698.4 632.58h-2.6M433.1 629.36h2.6M698.4 629.36h-2.6M433.1 626.15h2.6M698.4 626.15h-2.6M433.1 622.94h2.6M698.4 622.94h-2.6M433.1 619.73h2.6M698.4 619.73h-2.6M433.1 616.52h2.6M698.4 616.52h-2.6M433.1 613.3h2.6M698.4 613.3h-2.6M433.1 610.09h2.6M698.4 610.09h-2.6M433.1 606.88h5.3M698.4 606.88h-5.3M433.1 603.67h2.6M698.4 603.67h-2.6M433.1 600.46h2.6M698.4 600.46h-2.6M433.1 597.24h2.6M698.4 597.24h-2.6M433.1 594.03h2.6M698.4 594.03h-2.6M433.1 590.82h2.6M698.4 590.82h-2.6M433.1 587.61h2.6M698.4 587.61h-2.6M433.1 584.4h2.6M698.4 584.4h-2.6M433.1 581.18h2.6M698.4 581.18h-2.6M433.1 577.97h2.6M698.4 577.97h-2.6M433.1 574.76h5.3M698.4 574.76h-5.3M433.1 571.55h2.6M698.4 571.55h-2.6M433.1 568.34h2.6M698.4 568.34h-2.6M433.1 565.12h2.6M698.4 565.12h-2.6M433.1 561.91h2.6M698.4 561.91h-2.6M433.1 558.7h2.6M698.4 558.7h-2.6M433.1 555.49h2.6M698.4 555.49h-2.6M433.1 552.28h2.6M698.4 552.28h-2.6M433.1 549.06h2.6M698.4 549.06h-2.6M433.1 545.85h2.6M698.4 545.85h-2.6M433.1 542.64h5.3M698.4 542.64h-5.3M433.1 539.43h2.6M698.4 539.43h-2.6M433.1 536.22h2.6M698.4 536.22h-2.6M433.1 533h2.6M698.4 533h-2.6M433.1 529.79h2.6M698.4 529.79h-2.6M433.1 526.58h2.6M698.4 526.58h-2.6M433.1 523.37h2.6M698.4 523.37h-2.6M433.1 520.16h2.6M698.4 520.16h-2.6M433.1 516.94h2.6M698.4 516.94h-2.6M433.1 513.73h2.6M698.4 513.73h-2.6M433.1 510.52h5.3M698.4 510.52h-5.3M433.1 507.31h2.6M698.4 507.31h-2.6M433.1 504.1h2.6M698.4 504.1h-2.6M433.1 500.88h2.6M698.4 500.88h-2.6M433.1 497.67h2.6M698.4 497.67h-2.6M433.1 494.46h2.6M698.4 494.46h-2.6M433.1 491.25h2.6M698.4 491.25h-2.6M433.1 488.04h2.6M698.4 488.04h-2.6M433.1 484.82h2.6M698.4 484.82h-2.6M433.1 481.61h2.6M698.4 481.61h-2.6M433.1 478.4h5.3M698.4 478.4h-5.3" stroke="#333" stroke-width="0.95" fill="none"/>
<rect x="433.1" y="478.4" width="265.3" height="160.6" fill="none" stroke="#222" stroke-width="1.05"/>
<path d="M475.41 478.4V639" stroke="#111" stroke-width="1.7" stroke-linecap="round" stroke-dasharray="1 8.364" stroke-dashoffset="0.36" fill="none"/>
<path d="M433.1 639V636.28H438.41V615.74H443.71V583.49H449.02V556.67H454.32V541.44H459.63V540.16H464.94V545.6H470.24V556.16H475.55V566.59H480.85V574.56H486.16V583.14H491.47V589.76H496.77V596.06H502.08V599.71H507.38V604.67H512.69V608.8H518V611.62H523.3V616.26H528.61V619.87H533.91V623.68H539.22V625.34H544.53V627.49H549.83V630.16H555.14V631.93H560.44V633.56H565.75V635.09H571.06V636.04H576.36V637.06H581.67V637.91H586.97V638.35H592.28V638.66H597.59V638.83H602.89V639H608.2V639H613.5V639H618.81V639H624.12V639H629.42V639H634.73V639H640.03V639H645.34V639H650.65V639H655.95V639H661.26V639H666.56V639H671.87V639H677.18V639H682.48V639H687.79V639H693.09V639H698.4" stroke="#000" stroke-width="1.35" fill="none" stroke-linejoin="miter"/>
<text x="420.31" y="662">0.0</text>
<text x="455.68" y="662">0.2</text>
<text x="491.06" y="662">0.4</text>
<text x="526.43" y="662">0.6</text>
<text x="561.8" y="662">0.8</text>
<use href="#one" transform="translate(597.18 662) scale(0.01840 -0.01840)"/><text x="607.41" y="662">.0</text>
<use href="#one" transform="translate(632.55 662) scale(0.01840 -0.01840)"/><text x="642.78" y="662">.2</text>
<use href="#one" transform="translate(667.92 662) scale(0.01840 -0.01840)"/><text x="678.16" y="662">.4</text>
<text x="417.87" y="639.3">0</text>
<use href="#one" transform="translate(417.87 613.37) scale(0.01840 -0.01840)"/>
<text x="417.87" y="581.25">2</text>
<text x="417.87" y="549.13">3</text>
<text x="417.87" y="517.01">4</text>
<text x="417.87" y="489">5</text>
<text transform="translate(403.1 558.3) rotate(-90)" text-anchor="middle">Probability Density</text>
<text x="565.75" y="681.8" text-anchor="middle" xml:space="preserve"><tspan dy="0">P</tspan><tspan dy="4" font-size="11.4" stroke-width="0.3">par_core</tspan><tspan dy="-4"> / P</tspan><tspan dy="4" font-size="11.4" stroke-width="0.3">par_tot</tspan></text>
<text x="480.41" y="498">0.24</text>
<text x="659.4" y="502.6">(h)</text>
</g>
<g>
<path d="M818.8 639v-3.3M818.8 478.4v3.3M827.65 639v-1.6M827.65 478.4v1.6M836.49 639v-1.6M836.49 478.4v1.6M845.34 639v-1.6M845.34 478.4v1.6M854.19 639v-3.3M854.19 478.4v3.3M863.03 639v-1.6M863.03 478.4v1.6M871.88 639v-1.6M871.88 478.4v1.6M880.73 639v-1.6M880.73 478.4v1.6M889.57 639v-3.3M889.57 478.4v3.3M898.42 639v-1.6M898.42 478.4v1.6M907.27 639v-1.6M907.27 478.4v1.6M916.11 639v-1.6M916.11 478.4v1.6M924.96 639v-3.3M924.96 478.4v3.3M933.81 639v-1.6M933.81 478.4v1.6M942.65 639v-1.6M942.65 478.4v1.6M951.5 639v-1.6M951.5 478.4v1.6M960.35 639v-3.3M960.35 478.4v3.3M969.19 639v-1.6M969.19 478.4v1.6M978.04 639v-1.6M978.04 478.4v1.6M986.89 639v-1.6M986.89 478.4v1.6M995.73 639v-3.3M995.73 478.4v3.3M1004.58 639v-1.6M1004.58 478.4v1.6M1013.43 639v-1.6M1013.43 478.4v1.6M1022.27 639v-1.6M1022.27 478.4v1.6M1031.12 639v-3.3M1031.12 478.4v3.3M1039.97 639v-1.6M1039.97 478.4v1.6M1048.81 639v-1.6M1048.81 478.4v1.6M1057.66 639v-1.6M1057.66 478.4v1.6M1066.51 639v-3.3M1066.51 478.4v3.3M1075.35 639v-1.6M1075.35 478.4v1.6M1084.2 639v-1.6M1084.2 478.4v1.6M818.8 639h5.3M1084.2 639h-5.3M818.8 635.79h2.6M1084.2 635.79h-2.6M818.8 632.58h2.6M1084.2 632.58h-2.6M818.8 629.36h2.6M1084.2 629.36h-2.6M818.8 626.15h2.6M1084.2 626.15h-2.6M818.8 622.94h2.6M1084.2 622.94h-2.6M818.8 619.73h2.6M1084.2 619.73h-2.6M818.8 616.52h2.6M1084.2 616.52h-2.6M818.8 613.3h2.6M1084.2 613.3h-2.6M818.8 610.09h2.6M1084.2 610.09h-2.6M818.8 606.88h5.3M1084.2 606.88h-5.3M818.8 603.67h2.6M1084.2 603.67h-2.6M818.8 600.46h2.6M1084.2 600.46h-2.6M818.8 597.24h2.6M1084.2 597.24h-2.6M818.8 594.03h2.6M1084.2 594.03h-2.6M818.8 590.82h2.6M1084.2 590.82h-2.6M818.8 587.61h2.6M1084.2 587.61h-2.6M818.8 584.4h2.6M1084.2 584.4h-2.6M818.8 581.18h2.6M1084.2 581.18h-2.6M818.8 577.97h2.6M1084.2 577.97h-2.6M818.8 574.76h5.3M1084.2 574.76h-5.3M818.8 571.55h2.6M1084.2 571.55h-2.6M818.8 568.34h2.6M1084.2 568.34h-2.6M818.8 565.12h2.6M1084.2 565.12h-2.6M818.8 561.91h2.6M1084.2 561.91h-2.6M818.8 558.7h2.6M1084.2 558.7h-2.6M818.8 555.49h2.6M1084.2 555.49h-2.6M818.8 552.28h2.6M1084.2 552.28h-2.6M818.8 549.06h2.6M1084.2 549.06h-2.6M818.8 545.85h2.6M1084.2 545.85h-2.6M818.8 542.64h5.3M1084.2 542.64h-5.3M818.8 539.43h2.6M1084.2 539.43h-2.6M818.8 536.22h2.6M1084.2 536.22h-2.6M818.8 533h2.6M1084.2 533h-2.6M818.8 529.79h2.6M1084.2 529.79h-2.6M818.8 526.58h2.6M1084.2 526.58h-2.6M818.8 523.37h2.6M1084.2 523.37h-2.6M818.8 520.16h2.6M1084.2 520.16h-2.6M818.8 516.94h2.6M1084.2 516.94h-2.6M818.8 513.73h2.6M1084.2 513.73h-2.6M818.8 510.52h5.3M1084.2 510.52h-5.3M818.8 507.31h2.6M1084.2 507.31h-2.6M818.8 504.1h2.6M1084.2 504.1h-2.6M818.8 500.88h2.6M1084.2 500.88h-2.6M818.8 497.67h2.6M1084.2 497.67h-2.6M818.8 494.46h2.6M1084.2 494.46h-2.6M818.8 491.25h2.6M1084.2 491.25h-2.6M818.8 488.04h2.6M1084.2 488.04h-2.6M818.8 484.82h2.6M1084.2 484.82h-2.6M818.8 481.61h2.6M1084.2 481.61h-2.6M818.8 478.4h5.3M1084.2 478.4h-5.3" stroke="#333" stroke-width="0.95" fill="none"/>
<rect x="818.8" y="478.4" width="265.4" height="160.6" fill="none" stroke="#222" stroke-width="1.05"/>
<path d="M861.26 478.4V639" stroke="#111" stroke-width="1.7" stroke-linecap="round" stroke-dasharray="1 8.364" stroke-dashoffset="0.36" fill="none"/>
<path d="M818.8 639V636.28H824.11V615.74H829.42V583.49H834.72V556.67H840.03V541.44H845.34V540.16H850.65V545.6H855.96V556.16H861.26V566.59H866.57V574.56H871.88V583.14H877.19V589.76H882.5V596.06H887.8V599.71H893.11V604.67H898.42V608.8H903.73V611.62H909.04V616.26H914.34V619.87H919.65V623.68H924.96V625.34H930.27V627.49H935.58V630.16H940.88V631.93H946.19V633.56H951.5V635.09H956.81V636.04H962.12V637.06H967.42V637.91H972.73V638.35H978.04V638.66H983.35V638.83H988.66V639H993.96V639H999.27V639H1004.58V639H1009.89V639H1015.2V639H1020.5V639H1025.81V639H1031.12V639H1036.43V639H1041.74V639H1047.04V639H1052.35V639H1057.66V639H1062.97V639H1068.28V639H1073.58V639H1078.89V639H1084.2" stroke="#000" stroke-width="1.35" fill="none" stroke-linejoin="miter"/>
<text x="806.01" y="662">0.0</text>
<text x="841.4" y="662">0.2</text>
<text x="876.78" y="662">0.4</text>
<text x="912.17" y="662">0.6</text>
<text x="947.56" y="662">0.8</text>
<use href="#one" transform="translate(982.94 662) scale(0.01840 -0.01840)"/><text x="993.18" y="662">.0</text>
<use href="#one" transform="translate(1018.33 662) scale(0.01840 -0.01840)"/><text x="1028.56" y="662">.2</text>
<use href="#one" transform="translate(1053.72 662) scale(0.01840 -0.01840)"/><text x="1063.95" y="662">.4</text>
<text x="803.57" y="639.3">0</text>
<use href="#one" transform="translate(803.57 613.37) scale(0.01840 -0.01840)"/>
<text x="803.57" y="581.25">2</text>
<text x="803.57" y="549.13">3</text>
<text x="803.57" y="517.01">4</text>
<text x="803.57" y="489">5</text>
<text transform="translate(788.8 558.3) rotate(-90)" text-anchor="middle">Probability Density</text>
<text x="951.5" y="681.8" text-anchor="middle" xml:space="preserve"><tspan dy="0">β</tspan><tspan dy="4" font-size="11.4" stroke-width="0.3">par_core</tspan><tspan dy="-4"> / β</tspan><tspan dy="4" font-size="11.4" stroke-width="0.3">par_tot</tspan></text>
<text x="866.26" y="498">0.24</text>
<text x="1045.19" y="502.6">(i)</text>
</g>
</svg>
</body></html>
